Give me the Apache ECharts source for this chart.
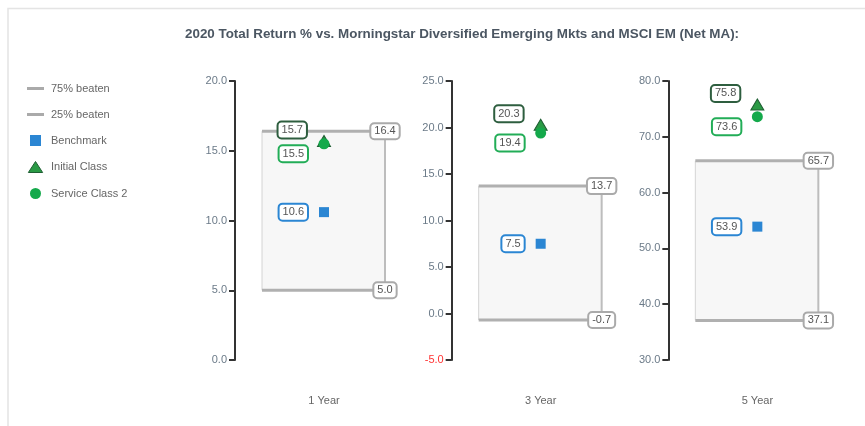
<!DOCTYPE html>
<html>
<head>
<meta charset="utf-8">
<script src="https://cdn.jsdelivr.net/npm/echarts@6/dist/echarts.min.js"></script>
<style>
  html, body { margin: 0; padding: 0; background: #fff; }
  #main { width: 865px; height: 426px; }
</style>
</head>
<body>
<div id="main"></div>
<script>
// data
var periods = ['1 Year', '3 Year', '5 Year'];
var q75 = [16.4, 13.7, 65.7];
var q25 = [5.0, -0.7, 37.1];
var benchmark = [10.6, 7.5, 53.9];
var initialClass = [15.7, 20.3, 75.8];
var serviceClass2 = [15.5, 19.4, 73.6];
var yMin = [0, -5, 30];
var yMax = [20, 25, 80];
var yStep = [5, 5, 10];

var chart = echarts.init(document.getElementById('main'), null, { renderer: 'canvas' });

var BLUE = '#2b86d3';
var DARK_GREEN = '#2e5e3f';
var TRI_GREEN = '#2a9a45';
var GREEN = '#14a94b';
var GREY = '#b0b0b0';

var grids = [], xAxes = [], yAxes = [], series = [];

function labelBox(border, dist, offset) {
  return {
    show: true,
    position: 'left',
    distance: dist,
    offset: offset,
    formatter: function (p) { return p.value[1].toFixed(1); },
    color: '#555',
    fontSize: 11,
    fontFamily: 'Liberation Sans, Arial, sans-serif',
    lineHeight: 13,
    backgroundColor: '#fff',
    borderColor: border,
    borderWidth: 2,
    borderRadius: 3,
    padding: [1, 3]
  };
}

// legend-only entries for the quartile edges
series.push(
  { name: '75% beaten', type: 'scatter', xAxisIndex: 0, yAxisIndex: 0, data: [], itemStyle: { color: '#aaa', opacity: 1 } },
  { name: '25% beaten', type: 'scatter', xAxisIndex: 0, yAxisIndex: 0, data: [], itemStyle: { color: '#aaa', opacity: 1 } }
);

periods.forEach(function (p, i) {
  grids.push({ left: 235 + 216.67 * i, top: 81, width: 178, height: 279 });
  xAxes.push({
    gridIndex: i,
    type: 'category',
    data: [p],
    axisLine: { show: false },
    axisTick: { show: false },
    axisLabel: { color: '#666', fontSize: 11, margin: 35 }
  });
  yAxes.push({
    gridIndex: i,
    type: 'value',
    min: yMin[i],
    max: yMax[i],
    interval: yStep[i],
    splitLine: { show: false },
    axisLine: { show: true, lineStyle: { color: '#333', width: 2 } },
    axisTick: { show: true, length: 6, lineStyle: { color: '#333', width: 2 } },
    axisLabel: {
      fontSize: 11,
      margin: 8,
      formatter: function (v) { return v.toFixed(1); },
      color: function (v) { return Number(v) < 0 ? '#ff3333' : '#6b7a88'; }
    }
  });

  // quartile box
  series.push({
    type: 'custom',
    xAxisIndex: i,
    yAxisIndex: i,
    silent: true,
    z: 1,
    data: [[0, q75[i], q25[i]]],
    renderItem: function (params, api) {
      var top = api.coord([api.value(0), api.value(1)]);
      var bot = api.coord([api.value(0), api.value(2)]);
      var cx = top[0];
      var l = cx - 62, r = cx + 61;
      var txt = function (val, y) {
        return {
          type: 'text',
          x: r, y: y,
          z2: 5,
          style: {
            text: val.toFixed(1),
            fill: '#555',
            font: '11px "Liberation Sans", Arial, sans-serif',
            align: 'center',
            verticalAlign: 'middle',
            backgroundColor: '#fff',
            borderColor: '#aaa',
            borderWidth: 2,
            borderRadius: 3,
            padding: [2, 3, 1, 3]
          }
        };
      };
      return {
        type: 'group',
        children: [
          { type: 'rect', shape: { x: l, y: top[1], width: r - l, height: bot[1] - top[1] }, style: { fill: '#f7f7f7' } },
          { type: 'line', shape: { x1: l, y1: top[1], x2: l, y2: bot[1] }, style: { stroke: '#d4d4d4', lineWidth: 1 } },
          { type: 'line', shape: { x1: r, y1: top[1], x2: r, y2: bot[1] }, style: { stroke: '#bdbdbd', lineWidth: 2 } },
          { type: 'line', shape: { x1: l, y1: top[1], x2: r, y2: top[1] }, style: { stroke: GREY, lineWidth: 3 } },
          { type: 'line', shape: { x1: l, y1: bot[1], x2: r, y2: bot[1] }, style: { stroke: GREY, lineWidth: 3 } },
          txt(api.value(1), top[1]),
          txt(api.value(2), bot[1])
        ]
      };
    }
  });

  series.push({
    name: 'Benchmark', type: 'scatter', xAxisIndex: i, yAxisIndex: i, z: 3,
    symbol: 'rect', symbolSize: 10, itemStyle: { color: BLUE, opacity: 1 },
    label: labelBox(BLUE, 12, [0, 0]),
    data: [[p, benchmark[i]]]
  });
  series.push({
    name: 'Initial Class', type: 'scatter', xAxisIndex: i, yAxisIndex: i, z: 3,
    symbol: 'triangle', symbolSize: [13, 11],
    itemStyle: { color: TRI_GREEN, borderColor: '#1f5e33', borderWidth: 1, opacity: 1 },
    label: labelBox(DARK_GREEN, 11, [0, -11]),
    data: [[p, initialClass[i]]]
  });
  series.push({
    name: 'Service Class 2', type: 'scatter', xAxisIndex: i, yAxisIndex: i, z: 4,
    symbol: 'circle', symbolSize: 11, itemStyle: { color: GREEN, opacity: 1 },
    label: labelBox('#22ad57', 11.5, [0, 10]),
    data: [[p, serviceClass2[i]]]
  });
});

var option = {
  animation: false,
  textStyle: { fontFamily: 'Liberation Sans, Arial, sans-serif' },
  title: {
    text: '2020 Total Return % vs. Morningstar Diversified Emerging Mkts and MSCI EM (Net MA):',
    left: 180,
    top: 23,
    textStyle: { fontSize: 13.4, fontWeight: 'bold', color: '#4b5662' }
  },
  legend: {
    orient: 'vertical',
    left: 22,
    top: 78,
    padding: 5,
    itemWidth: 17,
    itemHeight: 11,
    itemGap: 15,
    selectedMode: false,
    textStyle: { fontSize: 11, color: '#666', padding: [0, 0, 0, 2] },
    data: [
      { name: '75% beaten', icon: 'path://M0,0 H17 V3 H0 Z', itemStyle: { color: '#aaa' } },
      { name: '25% beaten', icon: 'path://M0,0 H17 V3 H0 Z', itemStyle: { color: '#aaa' } },
      { name: 'Benchmark', icon: 'path://M0,0 H10 V10 H0 Z', itemStyle: { color: BLUE } },
      { name: 'Initial Class', icon: 'path://M6.5,0 L13,10 L0,10 Z', itemStyle: { color: TRI_GREEN, borderColor: '#1f5e33', borderWidth: 1 } },
      { name: 'Service Class 2', icon: 'circle', itemStyle: { color: GREEN } }
    ]
  },
  graphic: [{
    type: 'polyline',
    silent: true,
    shape: { points: [[8, 426], [8, 8.5], [865, 8.5]] },
    style: { stroke: '#e4e4e4', lineWidth: 1.5, fill: null }
  }],
  grid: grids,
  xAxis: xAxes,
  yAxis: yAxes,
  series: series
};

chart.setOption(option);
</script>
</body>
</html>
